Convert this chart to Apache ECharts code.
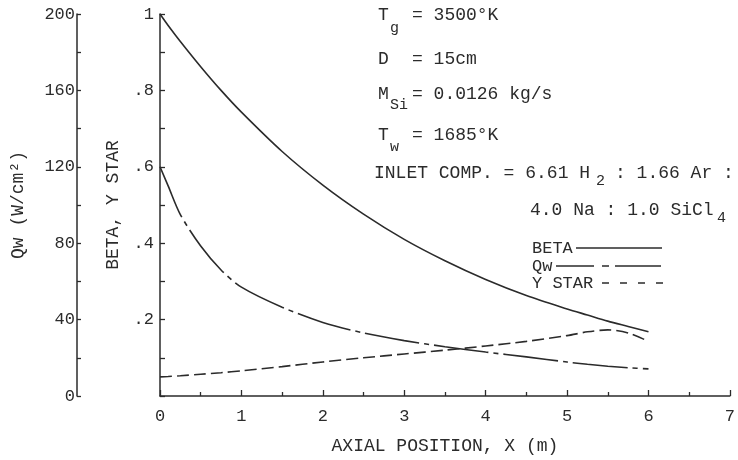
<!DOCTYPE html>
<html>
<head>
<meta charset="utf-8">
<script src="https://cdn.jsdelivr.net/npm/echarts@6/dist/echarts.min.js"></script>
<style>
  html, body { margin: 0; padding: 0; background: #fff; }
  #main { width: 738px; height: 460px; }
</style>
</head>
<body>
<div id="main"></div>
<script>
// axial position (m) where the curves were read
var xs = [0, 0.1, 0.25, 0.5, 0.75, 1, 1.5, 2, 2.5, 3, 3.5, 4, 4.5, 5, 5.25, 5.5, 5.75, 6];
// BETA (inner axis, 0..1)
var beta = [1.0, 0.97, 0.928, 0.862, 0.80, 0.743, 0.64, 0.552, 0.476, 0.41, 0.354, 0.305, 0.263, 0.228, 0.212, 0.196, 0.182, 0.168];
// Qw in W/cm2 (outer axis, 0..200)
var qw = [120, 110, 95, 78.5, 66, 57, 46.5, 38.5, 33, 29, 25.8, 23, 20.5, 17.8, 16.6, 15.6, 14.8, 14.2];
// Y STAR (inner axis)
var ystar = [0.05, 0.051, 0.053, 0.057, 0.061, 0.066, 0.077, 0.089, 0.1, 0.11, 0.12, 0.131, 0.143, 0.158, 0.168, 0.173, 0.165, 0.143];

var FONT = '"Liberation Mono", "DejaVu Sans Mono", monospace';
var INK = '#2b2b2b';

function pairs(vals) {
    return xs.map(function (x, i) { return [x, vals[i]]; });
}

var chart = echarts.init(document.getElementById('main'));

// little text helper for the annotation block
function txt(s, x, y, size) {
    return {
        type: 'text', x: x, y: y, silent: true,
        style: { text: s, font: (size || 18) + 'px ' + FONT, fill: INK, verticalAlign: 'middle' }
    };
}
// legend key line
function key(x1, x2, y, dash) {
    return {
        type: 'line', silent: true,
        shape: { x1: x1, y1: y, x2: x2, y2: y },
        style: { stroke: INK, lineWidth: 1.5, lineDash: dash || null }
    };
}

var option = {
    animation: false,
    backgroundColor: '#fff',
    grid: { left: 160, right: 5, top: 14, bottom: 60 },
    xAxis: {
        type: 'value', min: 0, max: 7, interval: 1,
        name: 'AXIAL POSITION, X (m)', nameLocation: 'middle', nameGap: 41,
        nameTextStyle: { fontFamily: FONT, fontSize: 18, color: INK },
        axisLine: { lineStyle: { color: INK, width: 1.5 } },
        axisTick: { inside: true, length: 6, lineStyle: { color: INK, width: 1.3 } },
        minorTick: { show: true, splitNumber: 2, length: 4, lineStyle: { color: INK, width: 1.3 } },
        axisLabel: { fontFamily: FONT, fontSize: 17, color: INK, margin: 12 },
        splitLine: { show: false }
    },
    yAxis: [
        {
            type: 'value', min: 0, max: 1, interval: 0.2, position: 'left',
            name: 'BETA, Y STAR', nameLocation: 'middle', nameGap: 38,
            nameTextStyle: { fontFamily: FONT, fontSize: 18, color: INK },
            axisLine: { show: true, lineStyle: { color: INK, width: 1.5 } },
            axisTick: { show: true, inside: true, length: 5, lineStyle: { color: INK, width: 1.3 } },
            minorTick: { show: true, splitNumber: 2, length: 5, lineStyle: { color: INK, width: 1.3 } },
            axisLabel: {
                fontFamily: FONT, fontSize: 17, color: INK, margin: 6,
                formatter: function (v) {
                    if (v === 0) return '';
                    if (v >= 1) return '1';
                    return '.' + Math.round(v * 10);
                }
            },
            splitLine: { show: false }
        },
        {
            type: 'value', min: 0, max: 200, interval: 40, position: 'left', offset: 83,
            name: 'Qw (W/cm²)', nameLocation: 'middle', nameGap: 50,
            nameTextStyle: { fontFamily: FONT, fontSize: 18, color: INK },
            axisLine: { show: true, lineStyle: { color: INK, width: 1.5 } },
            axisTick: { show: true, inside: true, length: 4, lineStyle: { color: INK, width: 1.3 } },
            minorTick: { show: true, splitNumber: 2, length: 4, lineStyle: { color: INK, width: 1.3 } },
            axisLabel: { fontFamily: FONT, fontSize: 17, color: INK, margin: 2 },
            splitLine: { show: false }
        }
    ],
    series: [
        {
            name: 'BETA', type: 'line', yAxisIndex: 0, data: pairs(beta),
            symbol: 'none', smooth: 0.3,
            lineStyle: { color: INK, width: 1.6, type: 'solid' }
        },
        {
            name: 'Qw', type: 'line', yAxisIndex: 1, data: pairs(qw),
            symbol: 'none', smooth: 0.3,
            lineStyle: { color: INK, width: 1.6, type: [55, 5, 5, 5] }
        },
        {
            name: 'Y STAR', type: 'line', yAxisIndex: 0, data: pairs(ystar),
            symbol: 'none', smooth: 0.3,
            lineStyle: { color: INK, width: 1.6, type: [12, 5] }
        }
    ],
    graphic: [
        txt('T', 378, 15), txt('g', 390, 28, 15), txt('= 3500°K', 412, 15),
        txt('D', 378, 59), txt('= 15cm', 412, 59),
        txt('M', 378, 94), txt('Si', 390, 105, 15), txt('= 0.0126 kg/s', 412, 94),
        txt('T', 378, 135), txt('w', 390, 147, 15), txt('= 1685°K', 412, 135),
        txt('INLET COMP. = 6.61 H', 374, 173), txt('2', 596, 181, 15), txt(': 1.66 Ar :', 615, 173),
        txt('4.0 Na : 1.0 SiCl', 530, 210), txt('4', 717, 218, 15),
        // key
        txt('BETA', 532, 248, 17), key(576, 662, 248),
        txt('Qw', 532, 266, 17), key(556, 661, 266, [38, 8, 7, 6, 80]),
        txt('Y STAR', 532, 283, 17), key(602, 663, 283, [7, 11])
    ]
};

chart.setOption(option);
</script>
</body>
</html>
